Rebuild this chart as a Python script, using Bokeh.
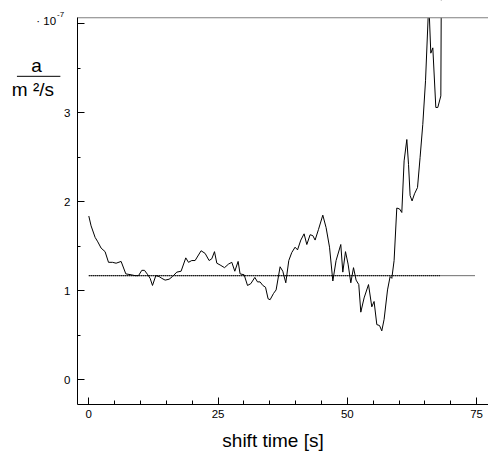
from bokeh.plotting import figure
from bokeh.models import (LinearAxis, FixedTicker, Label, Arrow, Range1d)
from bokeh.embed import file_html
from bokeh.resources import INLINE

# thermal diffusivity a (in units of 1e-7 m^2/s) versus shift time
shift_time = [0.0, 0.44, 1.22, 1.74, 2.38, 3.15, 3.81, 4.58, 5.28, 6.25,
              7.16, 8.18, 8.96, 9.61, 10.25, 10.77, 11.41, 11.86, 12.32, 12.96,
              13.60, 14.12, 14.76, 15.53, 16.19, 17.02, 17.85, 18.76, 19.28, 19.92,
              20.56, 21.72, 22.50, 23.27, 23.79, 24.31, 24.76, 25.40, 26.25, 27.02,
              27.66, 28.24, 28.88, 29.26, 30.04, 30.70, 31.33, 32.11, 32.63, 33.13,
              33.66, 34.18, 34.68, 35.07, 35.73, 36.23, 37.00, 37.52, 38.10, 38.68,
              39.26, 39.90, 40.37, 41.01, 41.64, 42.17, 42.81, 43.33, 43.77, 44.43,
              45.26, 45.90, 46.56, 47.20, 47.83, 48.74, 49.13, 49.65, 50.15, 50.68,
              51.20, 51.70, 52.22, 52.61, 53.25, 54.10, 54.74, 55.18, 55.71, 56.23,
              56.67, 57.12, 57.78, 58.28, 58.61, 59.05, 59.57, 60.10, 60.54, 60.99,
              61.51, 61.84, 62.15, 62.53, 63.00, 63.58, 64.08, 64.60, 65.13, 65.76,
              66.15, 66.54, 67.12, 67.50, 68.09, 68.20]
a_value = [1.84, 1.73, 1.60, 1.55, 1.48, 1.44, 1.32, 1.32, 1.31, 1.33,
           1.19, 1.18, 1.17, 1.17, 1.23, 1.23, 1.18, 1.14, 1.06, 1.17,
           1.16, 1.14, 1.12, 1.13, 1.16, 1.21, 1.22, 1.37, 1.32, 1.34,
           1.34, 1.45, 1.42, 1.34, 1.36, 1.44, 1.31, 1.29, 1.26, 1.30,
           1.32, 1.22, 1.33, 1.19, 1.18, 1.06, 1.08, 1.15, 1.10, 1.10,
           1.06, 1.04, 0.91, 0.90, 0.97, 1.01, 1.27, 1.22, 1.09, 1.34,
           1.43, 1.49, 1.46, 1.57, 1.64, 1.52, 1.63, 1.62, 1.57, 1.69,
           1.85, 1.71, 1.49, 1.11, 1.34, 1.52, 1.21, 1.44, 1.30, 1.09,
           1.26, 1.12, 1.07, 0.76, 0.92, 1.07, 0.82, 0.88, 0.62, 0.61,
           0.55, 0.68, 1.01, 1.16, 1.14, 1.34, 1.93, 1.92, 1.88, 2.46,
           2.70, 2.42, 2.07, 2.01, 2.09, 2.16, 2.50, 2.87, 3.36, 4.25,
           3.67, 3.73, 3.06, 3.06, 3.19, 4.60]

# mean level: dotted over the data span, solid out to the end
a_mean = 1.17
mean_dotted_t = [0.0, 68.0]
mean_solid_t = [0.0, 74.7]

x_ticks = [0, 25, 50, 75]
x_minor = [5, 10, 15, 20, 30, 35, 40, 45, 55, 60, 65, 70]
y_ticks = [0, 1, 2, 3, 4]
y_minor = [0.5, 1.5, 2.5, 3.5]
y_tick_labels = {0: "0", 1: "1", 2: "2", 3: "3", 4: ""}

# axis box in data units
X_LO, X_HI = -2.19, 77.31
Y_LO, Y_HI = -0.28, 4.068
Y_TOP = 4.262

FONT = "Liberation Sans"

# the frame covers the whole page; axes sit at fixed locations inside it
p = figure(width=488, height=452, title=None,
           x_range=Range1d(-17.08, X_HI), y_range=Range1d(-0.817, Y_TOP),
           output_backend="svg", toolbar_location=None,
           x_axis_type=None, y_axis_type=None,
           min_border=0)
p.outline_line_color = None
p.xgrid.visible = False
p.ygrid.visible = False
p.background_fill_color = "white"
p.border_fill_color = "white"

p.line(mean_solid_t, [a_mean, a_mean], line_color="#6f6f6f", line_width=1)
p.line(mean_dotted_t, [a_mean, a_mean], line_color="black", line_width=1.3,
       line_dash="1 1")
p.line(shift_time, a_value, line_color="black", line_width=1)

# the curve is cut off at the top of the axis box: white cover above it
cover = p.quad(left=[X_LO], right=[X_HI], bottom=[Y_HI], top=[Y_TOP],
               fill_color="white", line_color=None)
cover.level = "annotation"

# plain top border line of the axis box
border = p.line([X_LO, X_HI], [Y_HI, Y_HI], line_color="#7f7f7f", line_width=1)
border.level = "overlay"

xaxis = LinearAxis(ticker=FixedTicker(ticks=x_ticks, minor_ticks=x_minor),
                   fixed_location=Y_LO, bounds=(X_LO, X_HI))
xaxis.major_label_text_font = FONT
xaxis.major_label_text_font_size = "11.5px"
xaxis.major_label_text_color = "black"
xaxis.major_label_standoff = 5
xaxis.major_tick_in = 7
xaxis.major_tick_out = 0
xaxis.minor_tick_in = 4
xaxis.minor_tick_out = 0
xaxis.axis_line_color = "black"
xaxis.level = "overlay"
p.add_layout(xaxis, "below")

yaxis = LinearAxis(ticker=FixedTicker(ticks=y_ticks, minor_ticks=y_minor),
                   fixed_location=X_LO, bounds=(Y_LO, Y_HI))
yaxis.major_label_overrides = y_tick_labels
yaxis.major_label_text_font = FONT
yaxis.major_label_text_font_size = "11.5px"
yaxis.major_label_text_color = "black"
yaxis.major_label_standoff = 7
yaxis.major_tick_in = 7
yaxis.major_tick_out = 0
yaxis.minor_tick_in = 3
yaxis.minor_tick_out = 0
yaxis.axis_line_color = "black"
yaxis.level = "overlay"
p.add_layout(yaxis, "left")

# x axis title
p.add_layout(Label(x=35.63, y=-0.682, text="shift time [s]", text_align="center",
                   text_baseline="alphabetic", text_font=FONT,
                   text_font_size="19px", text_color="black", level="overlay"))

# exponent of the y scale
p.add_layout(Label(x=-6.34, y=4.034, text="\u00b7 10", text_align="right",
                   text_baseline="alphabetic", text_font=FONT,
                   text_font_size="11.5px", text_color="black", level="overlay"))
p.add_layout(Label(x=-6.15, y=4.10, text="-7", text_align="left",
                   text_baseline="alphabetic", text_font=FONT,
                   text_font_size="8px", text_color="black", level="overlay"))

# quantity over unit as a stacked fraction
p.add_layout(Label(x=-10.1, y=3.526, text="a", text_align="center",
                   text_baseline="alphabetic", text_font=FONT,
                   text_font_size="19px", text_color="black", level="overlay"))
p.add_layout(Label(x=-10.8, y=3.262, text="m \u00b2/s", text_align="center",
                   text_baseline="alphabetic", text_font=FONT,
                   text_font_size="19px", text_color="black", level="overlay"))
p.add_layout(Arrow(start=None, end=None, x_start=-13.9, x_end=-5.5,
                   y_start=3.41, y_end=3.41, line_color="black", line_width=1,
                   level="overlay"))

open("out.html", "w").write(file_html(p, INLINE))
